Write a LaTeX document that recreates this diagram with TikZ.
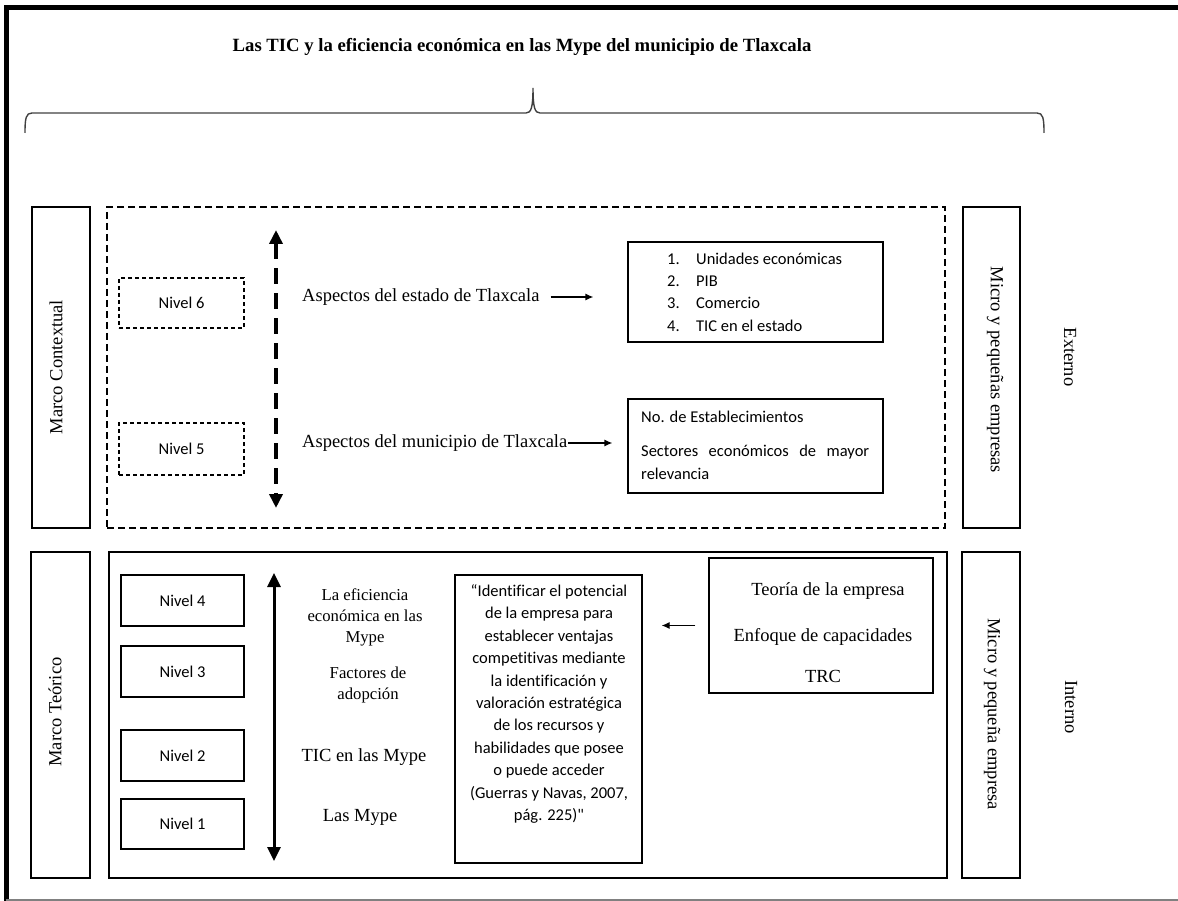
\documentclass[tikz,border=0pt]{standalone}
\usepackage{fontspec}
\setmainfont{Liberation Serif}
\setsansfont{Carlito}[Ligatures={NoCommon}]
\usetikzlibrary{arrows.meta}
\tikzset{
  serifL/.style={font=\fontsize{18.5}{22}\selectfont, inner sep=0pt},
  serifM/.style={font=\fontsize{16.7}{21}\selectfont, inner sep=0pt, align=center},
  titlefont/.style={font=\bfseries\fontsize{18.7}{22}\selectfont, inner sep=0pt},
  sansT/.style={font=\sffamily\fontsize{16.5}{22.4}\selectfont, inner sep=0pt},
  solidbox/.style={draw, line width=1.2pt, inner sep=0pt},
  dashbox/.style={draw, line width=1.1pt, dash pattern=on 4pt off 3pt, inner sep=0pt},
  bigdash/.style={draw, line width=1.1pt, dash pattern=on 7pt off 4pt, inner sep=0pt},
  smallarrow/.style={line width=1.2pt, -{Latex[length=8pt,width=7pt]}},
  thickarrow/.style={line width=3pt, {Triangle[length=14pt,width=13pt]}-{Triangle[length=14pt,width=13pt]}},
  thickdash/.style={line width=4pt, dash pattern=on 16pt off 9pt, {Triangle[length=14pt,width=13pt]}-{Triangle[length=14pt,width=13pt]}},
  bracestyle/.style={draw, black!75, line width=1.4pt}
}
\begin{document}
\begin{tikzpicture}[x=1pt,y=-1pt]
\useasboundingbox (0,0) rectangle (1178,901);
% outer frame
\draw[line width=5pt] (6.3,901) -- (6.3,7.5) -- (1178,7.5);
\draw[gray, line width=1.2pt] (6.3,900) -- (1178,900);
% title
\node[titlefont] (title) at (522,47) {Las TIC y la eficiencia económica en las Mype del municipio de Tlaxcala};
% brace
\draw[bracestyle] (25,133) .. controls (25,118) and (26,113) .. (32,113) -- (526,113)
  .. controls (531,113) and (533,108) .. (533,88)
  .. controls (533,108) and (535,113) .. (540,113) -- (1037,113)
  .. controls (1043,113) and (1044,118) .. (1044,133);

% ---------------- top section
\node[solidbox, minimum width=58pt, minimum height=321pt] (mcbox) at (61,367.5) {};
\node[serifL, rotate=90] (mctxt) at (56,367) {Marco Contextual};
\node[bigdash, minimum width=838pt, minimum height=321pt] (ctxbox) at (526,367.5) {};
\node[dashbox, minimum width=125pt, minimum height=50pt, sansT] (n6) at (181.5,303) {Nivel 6};
\node[dashbox, minimum width=125pt, minimum height=52pt, sansT] (n5) at (181.5,449) {Nivel 5};
\coordinate (da1) at (276,230);
\coordinate (da2) at (276,508);
\draw[thickdash] (da1) -- (da2);
\node[serifL, anchor=west] (asp1) at (302,297) {Aspectos del estado de Tlaxcala};
\node[serifL, anchor=west] (asp2) at (302,443) {Aspectos del municipio de Tlaxcala};
\node[solidbox, minimum width=255pt, minimum height=100pt] (list) at (755.5,292) {};
\node[sansT, align=left, anchor=west] (listtxt) at (667,292) {\makebox[29pt][l]{1.}Unidades económicas\\\makebox[29pt][l]{2.}PIB\\\makebox[29pt][l]{3.}Comercio\\\makebox[29pt][l]{4.}TIC en el estado};
\node[solidbox, minimum width=255pt, minimum height=94pt] (mun) at (755.5,446) {};
\node[sansT, anchor=west] (mun1) at (641,417) {No. de Establecimientos};
\node[sansT, anchor=west] (mun2) at (641,452) {\makebox[228pt][s]{Sectores económicos de mayor}};
\node[sansT, anchor=west] (mun3) at (641,474) {relevancia};
\draw[smallarrow, shorten <=11pt, shorten >=34pt] (asp1.east) -- (asp1.east -| list.west);
\draw[smallarrow, shorten <=1pt, shorten >=15pt] (asp2.east) -- (asp2.east -| mun.west);
\node[solidbox, minimum width=57pt, minimum height=321pt] (mpebox) at (991.5,367.5) {};
\node[serifL, rotate=-90] (mpetxt) at (995,370) {Micro y pequeñas empresas};
\node[serifL, rotate=-90] (externo) at (1070,357) {Externo};

% ---------------- bottom section
\node[solidbox, minimum width=59pt, minimum height=326pt] (mtbox) at (60.5,715) {};
\node[serifL, rotate=90] (mttxt) at (55,712) {Marco Teórico};
\node[solidbox, minimum width=838pt, minimum height=326pt] (teobox) at (528,715) {};
\node[solidbox, minimum width=123pt, minimum height=51pt, sansT] (n4) at (182.5,600.5) {Nivel 4};
\node[solidbox, minimum width=123pt, minimum height=51pt, sansT] (n3) at (182.5,671.5) {Nivel 3};
\node[solidbox, minimum width=123pt, minimum height=51pt, sansT] (n2) at (182.5,755.5) {Nivel 2};
\node[solidbox, minimum width=123pt, minimum height=50pt, sansT] (n1) at (182.5,824) {Nivel 1};
\coordinate (sa1) at (274,573);
\coordinate (sa2) at (274,861);
\draw[thickarrow] (sa1) -- (sa2);
\node[serifM] (l4) at (365,617) {La eficiencia\\económica en las\\Mype};
\node[serifM] (l3) at (368,685) {Factores de\\adopción};
\node[serifL] (l2) at (364,757) {TIC en las Mype};
\node[serifL] (l1) at (360,817) {Las Mype};
\node[solidbox, minimum width=187pt, minimum height=288pt] (quote) at (548.5,719) {};
\node[sansT, align=center] (quotetxt) at (549,704) {“Identificar el potencial\\de la empresa para\\establecer ventajas\\competitivas mediante\\la identificación y\\valoración estratégica\\de los recursos y\\habilidades que posee\\o puede acceder\\(Guerras y Navas, 2007,\\pág. 225)\textquotedbl};
\node[solidbox, minimum width=224pt, minimum height=135pt] (teoria) at (821,625.5) {};
\node[serifL] (t1) at (828,591) {Teoría de la empresa};
\node[serifL] (t2) at (823,637) {Enfoque de capacidades};
\node[serifL] (t3) at (823,676) {TRC};
\draw[smallarrow, shorten <=13pt, shorten >=19pt] (teoria.west) -- (teoria.west -| quote.east);
\node[solidbox, minimum width=58pt, minimum height=326pt] (mpbox) at (991,715) {};
\node[serifL, rotate=-90] (mptxt) at (992,714) {Micro y pequeña empresa};
\node[serifL, rotate=-90] (interno) at (1071,707) {Interno};
\end{tikzpicture}
\end{document}
